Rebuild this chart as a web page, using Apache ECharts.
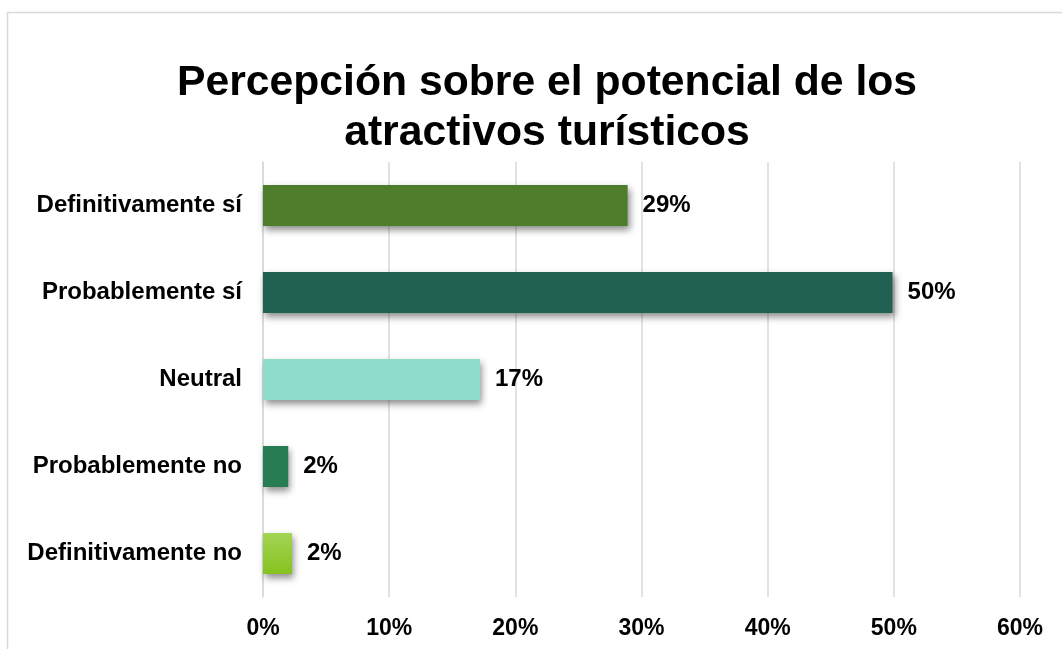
<!DOCTYPE html>
<html>
<head>
<meta charset="utf-8">
<script src="https://cdn.jsdelivr.net/npm/echarts@6/dist/echarts.min.js"></script>
<style>html,body{margin:0;padding:0;background:#fff;}#c{width:1062px;height:649px;}</style>
</head>
<body>
<div id="c"></div>
<script>
const titleText = 'Percepción sobre el potencial de los\natractivos turísticos';
const categories = ['Definitivamente sí', 'Probablemente sí', 'Neutral', 'Probablemente no', 'Definitivamente no'];
const values = [28.9, 49.9, 17.2, 2.0, 2.3];
const tickLabels = ['0%', '10%', '20%', '30%', '40%', '50%', '60%'];

const colors = [
  '#4e7d2c',
  '#216152',
  '#90dccb',
  '#277c53',
  new echarts.graphic.LinearGradient(0, 0, 0, 1, [{offset: 0, color: '#a3d456'}, {offset: 1, color: '#86c21f'}])
];
const font = '"Liberation Sans", Arial, sans-serif';

const chart = echarts.init(document.getElementById('c'), null, {renderer: 'canvas'});
chart.setOption({
  animation: false,
  backgroundColor: '#fff',
  graphic: [{
    type: 'rect', left: 5, top: 10, z: -1,
    shape: {width: 1120, height: 700},
    style: {fill: 'none', stroke: '#d9d9d9', lineWidth: 1.5}
  }],
  title: {
    text: titleText,
    left: 542,
    textAlign: 'center',
    top: 53,
    textStyle: {fontFamily: font, fontWeight: 'bold', fontSize: 42.7, lineHeight: 50, color: '#000'}
  },
  grid: {left: 263, right: 42, top: 162, height: 435, containLabel: false},
  xAxis: {
    type: 'value', min: 0, max: 60, interval: 10,
    axisLine: {show: false}, axisTick: {show: false},
    splitLine: {show: true, lineStyle: {color: '#d9d9d9', width: 1.5}},
    axisLabel: {
      margin: 20, color: '#000', fontFamily: font, fontWeight: 'bold', fontSize: 23,
      formatter: function (v) { return tickLabels[Math.round(v / 10)]; }
    }
  },
  yAxis: {
    type: 'category', inverse: true, data: categories,
    axisLine: {show: true, lineStyle: {color: '#d9d9d9', width: 1.5}},
    axisTick: {show: false},
    axisLabel: {margin: 21, color: '#000', fontFamily: font, fontWeight: 'bold', fontSize: 24}
  },
  series: [{
    type: 'bar',
    barWidth: '47%',
    data: values.map(function (v, i) {
      return {value: v, itemStyle: {color: colors[i]}};
    }),
    itemStyle: {shadowColor: 'rgba(0,0,0,0.45)', shadowBlur: 7, shadowOffsetX: 2, shadowOffsetY: 4},
    label: {
      show: true, position: 'right', distance: 15,
      color: '#000', fontFamily: font, fontWeight: 'bold', fontSize: 24,
      formatter: function (p) { return Math.round(p.value) + '%'; }
    }
  }]
});
</script>
</body>
</html>
